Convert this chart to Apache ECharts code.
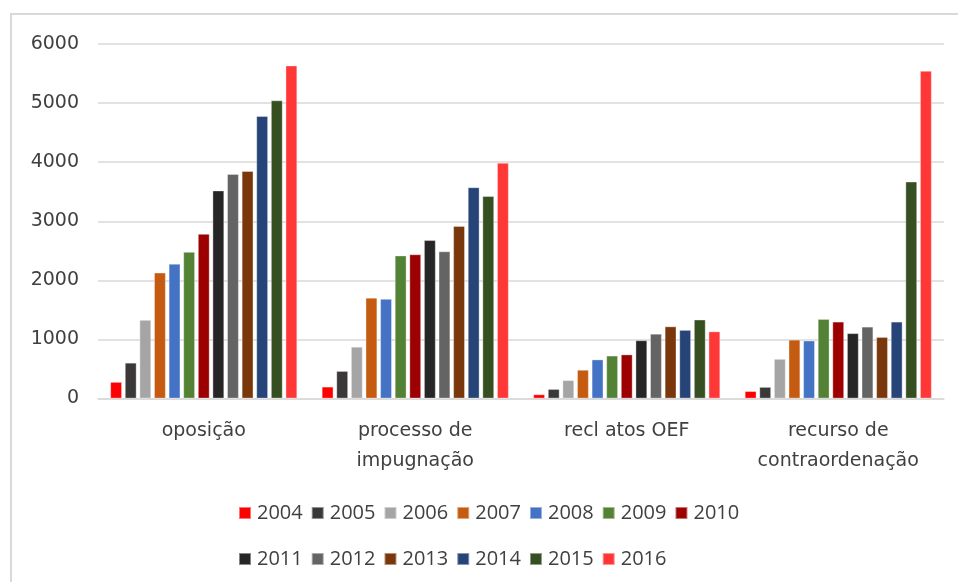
<!DOCTYPE html>
<html>
<head>
<meta charset="utf-8">
<script src="https://cdn.jsdelivr.net/npm/echarts@6/dist/echarts.min.js"></script>
<style>
html,body{margin:0;padding:0;background:#fff;}
#c{width:958px;height:582px;}
</style>
</head>
<body>
<div id="c"></div>
<script>
const categories = ['oposição', 'processo de\nimpugnação', 'recl atos OEF', 'recurso de\ncontraordenação'];
const years = ['2004','2005','2006','2007','2008','2009','2010','2011','2012','2013','2014','2015','2016'];
const v2004 = [280, 200, 70, 125];
const v2005 = [605, 465, 160, 195];
const v2006 = [1330, 875, 310, 670];
const v2007 = [2130, 1705, 485, 995];
const v2008 = [2280, 1685, 660, 980];
const v2009 = [2480, 2420, 725, 1345];
const v2010 = [2785, 2440, 745, 1300];
const v2011 = [3520, 2680, 985, 1105];
const v2012 = [3800, 2490, 1095, 1215];
const v2013 = [3850, 2920, 1220, 1040];
const v2014 = [4780, 3575, 1160, 1300];
const v2015 = [5045, 3425, 1335, 3670];
const v2016 = [5635, 3990, 1135, 5545];
const seriesValues = [v2004, v2005, v2006, v2007, v2008, v2009, v2010, v2011, v2012, v2013, v2014, v2015, v2016];
const colors = ['#FF0000','#3A3838','#A5A5A5','#C55A11','#4472C4','#548235','#9C0000','#262626','#646464','#7A370C','#264478','#354F21','#FF3737'];
const yTicks = [0, 1000, 2000, 3000, 4000, 5000, 6000];

const FONT = 'DejaVu Sans';
const LFONT = 'Open Sans';
const TXT = '#404040';

const chart = echarts.init(document.getElementById('c'), null, {renderer: 'canvas'});
chart.setOption({
  animation: false,
  backgroundColor: '#fff',
  color: colors,
  textStyle: {fontFamily: FONT},
  graphic: [{
    type: 'rect', silent: true, z: -10,
    shape: {x: 11, y: 14, width: 1200, height: 800},
    style: {fill: 'none', stroke: '#d9d9d9', lineWidth: 2}
  }],
  grid: {left: 98, right: 14, top: 44, bottom: 183.5, containLabel: false},
  legend: [{
    data: years.slice(0, 7),
    left: 233, top: 498, orient: 'horizontal',
    icon: 'rect', itemWidth: 12, itemHeight: 12, itemGap: 8,
    textStyle: {fontFamily: LFONT, fontSize: 20, color: TXT, padding: [0, 0, 0, 1]}
  }, {
    data: years.slice(7),
    left: 233, top: 544, orient: 'horizontal',
    icon: 'rect', itemWidth: 12, itemHeight: 12, itemGap: 8,
    textStyle: {fontFamily: LFONT, fontSize: 20, color: TXT, padding: [0, 0, 0, 1]}
  }],
  xAxis: {
    type: 'category',
    data: categories,
    axisLine: {show: true, lineStyle: {color: '#d9d9d9', width: 1.5}},
    axisTick: {show: false},
    axisLabel: {fontFamily: FONT, fontSize: 19, color: TXT, margin: 18, lineHeight: 30, interval: 0}
  },
  yAxis: {
    type: 'value',
    min: yTicks[0], max: yTicks[yTicks.length - 1], interval: 1000,
    axisLine: {show: false},
    axisTick: {show: false},
    axisLabel: {fontFamily: FONT, fontSize: 19, color: TXT, margin: 19, formatter: v => String(v)},
    splitLine: {lineStyle: {color: '#d9d9d9', width: 1.5}}
  },
  series: years.map((y, i) => ({
    name: y,
    type: 'bar',
    data: seriesValues[i],
    barGap: '25%',
    barCategoryGap: '11.6%',
    itemStyle: {color: colors[i], borderColor: 'rgba(255,255,255,0.45)', borderWidth: 0.8}
  }))
});
</script>
</body>
</html>
